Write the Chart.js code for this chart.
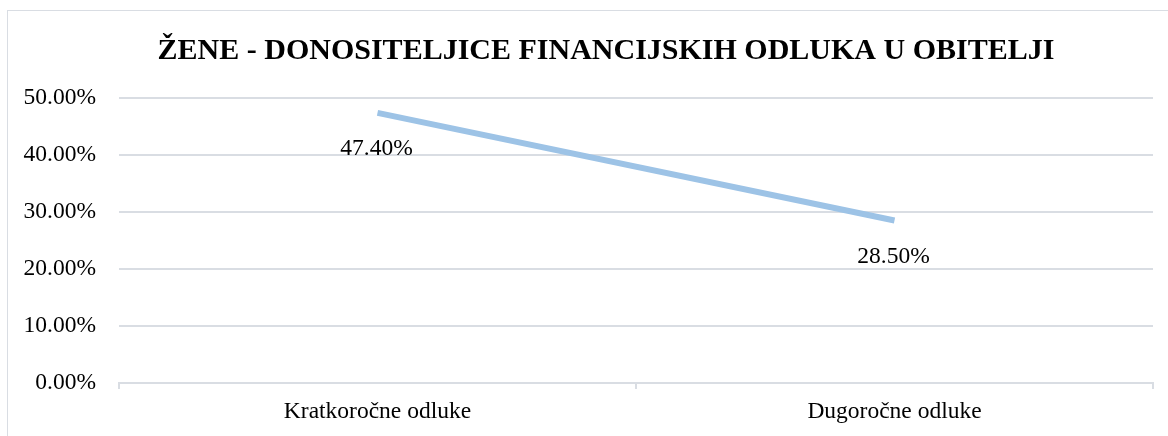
<!DOCTYPE html>
<html>
<head>
<meta charset="utf-8">
<script src="https://cdn.jsdelivr.net/npm/chart.js@4"></script>
<style>
  html, body { margin: 0; padding: 0; background: #fff; }
  #wrap { position: relative; width: 1168px; height: 436px; overflow: hidden; }
  #frame { position: absolute; left: 7px; top: 10px; width: 1300px; height: 600px; border: 1px solid #d9dde3; }
  canvas { position: absolute; left: 0; top: 0; }
</style>
</head>
<body>
<div id="wrap">
  <div id="frame"></div>
  <canvas id="chart" width="1168" height="436"></canvas>
</div>
<script>
const categories = ["Kratkoročne odluke", "Dugoročne odluke"];
const values = [47.4, 28.5];
const yTicks = [0, 10, 20, 30, 40, 50];
const chartTitle = "ŽENE - DONOSITELJICE FINANCIJSKIH ODLUKA U OBITELJI";

const serif = "'Liberation Serif', 'Times New Roman', serif";

// title, centred on the whole chart frame rather than the canvas
const titlePlugin = {
  id: "titlePlugin",
  afterDraw(chart) {
    const ctx = chart.ctx;
    ctx.save();
    ctx.font = "bold 30px " + serif;
    ctx.fillStyle = "#000";
    ctx.textAlign = "center";
    ctx.textBaseline = "alphabetic";
    ctx.fillText(chartTitle, 606, 59);
    ctx.restore();
  }
};

// value labels under each point
const pointLabels = {
  id: "pointLabels",
  afterDatasetsDraw(chart) {
    const ctx = chart.ctx;
    const meta = chart.getDatasetMeta(0);
    ctx.save();
    ctx.font = "23.5px " + serif;
    ctx.fillStyle = "#000";
    ctx.textAlign = "center";
    ctx.textBaseline = "middle";
    meta.data.forEach((pt, i) => {
      ctx.fillText(values[i].toFixed(2) + "%", pt.x - 1, pt.y + 36);
    });
    ctx.restore();
  }
};

const ctx = document.getElementById("chart").getContext("2d");
new Chart(ctx, {
  type: "line",
  data: {
    labels: categories,
    datasets: [{
      data: values,
      borderColor: "#9dc3e6",
      borderWidth: 6,
      borderCapStyle: "butt",
      pointRadius: 0,
      fill: false,
      tension: 0
    }]
  },
  options: {
    responsive: false,
    animation: false,
    layout: { padding: { left: 0, right: 15, top: 98, bottom: 0 } },
    plugins: {
      legend: { display: false },
      tooltip: { enabled: false },
      title: { display: false }
    },
    scales: {
      x: {
        offset: true,
        grid: {
          offset: true,
          drawOnChartArea: false,
          drawTicks: true,
          tickLength: 6,
          color: "#d9dde3",
          lineWidth: 2
        },
        border: { display: true, color: "#d9dde3", width: 2 },
        ticks: { color: "#000", font: { family: serif, size: 23.5 }, padding: 9 },
        afterFit(scale) { scale.height = 53; }
      },
      y: {
        min: 0,
        max: 50,
        afterBuildTicks(scale) { scale.ticks = yTicks.map(v => ({ value: v })); },
        grid: { color: "#d9dde3", lineWidth: 2, drawTicks: false },
        border: { display: false },
        ticks: {
          color: "#000",
          font: { family: serif, size: 23.5 },
          padding: 23,
          callback: v => v.toFixed(2) + "%"
        },
        afterFit(scale) { scale.width = 119; }
      }
    }
  },
  plugins: [pointLabels, titlePlugin]
});
</script>
</body>
</html>
